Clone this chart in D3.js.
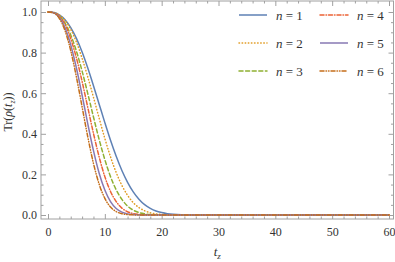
<!DOCTYPE html>
<html>
<head>
<meta charset="utf-8">
<script src="https://cdn.jsdelivr.net/npm/d3@7"></script>
<style>
  body { margin: 0; background: #fff; }
</style>
</head>
<body>
<div id="chart"></div>
<script>
// sample times t_z
const tVals = [0,1,2,3,4,5,6,7,8,9,10,11,12,13,14,15,16,17,18,19,20,21,22,25,30,40,50,60];

// Tr(rho(t_z)), one array per n
const n1 = [1,0.998,0.986,0.962,0.923,0.870,0.803,0.724,0.637,0.546,0.455,0.368,0.289,0.219,0.161,0.114,0.078,0.051,0.033,0.020,0.012,0.0065,0.0035,0.0004,0,0,0,0];
const n2 = [1,0.998,0.985,0.958,0.914,0.852,0.772,0.680,0.580,0.477,0.377,0.287,0.209,0.146,0.097,0.061,0.037,0.021,0.011,0.0057,0.0027,0.0012,0.0005,0,0,0,0,0];
const n3 = [1,0.997,0.980,0.945,0.887,0.807,0.709,0.598,0.483,0.372,0.273,0.189,0.124,0.077,0.044,0.024,0.012,0.0057,0.0025,0.001,0.0004,0,0,0,0,0,0,0];
const n4 = [1,0.997,0.979,0.938,0.869,0.774,0.658,0.530,0.402,0.286,0.189,0.116,0.066,0.034,0.016,0.0069,0.0027,0.0009,0.0003,0,0,0,0,0,0,0,0,0];
const n5 = [1,0.996,0.973,0.922,0.838,0.724,0.590,0.449,0.317,0.206,0.123,0.066,0.032,0.014,0.0055,0.0019,0.0006,0,0,0,0,0,0,0,0,0,0,0];
const n6 = [1,0.995,0.968,0.908,0.810,0.680,0.533,0.385,0.254,0.152,0.082,0.039,0.017,0.0062,0.002,0.0006,0,0,0,0,0,0,0,0,0,0,0,0];

const seriesNames = ['1','2','3','4','5','6'];
const seriesValues = [n1, n2, n3, n4, n5, n6];

const xTicks = [0,10,20,30,40,50,60];
const yTicks = [0,0.2,0.4,0.6,0.8,1.0];

const colors = ['#5E81B5','#E19C24','#8FB032','#EB6235','#8778B3','#C56E1A'];
const dashes = [null, '0.5,2.6', '4,2.6', '4,2,0.5,2', null, '4,2,0.5,2,0.5,2'];

const serif = '"Liberation Serif", "DejaVu Serif", "Times New Roman", serif';
const textColor = '#333';

const W = 395, H = 262;
const frame = {left: 41, right: 393.5, top: 1, bottom: 219};

const x = d3.scaleLinear().domain([0, 60]).range([48, 389]);
const y = d3.scaleLinear().domain([0, 1]).range([215, 12]);

const svg = d3.select('#chart').append('svg')
    .attr('width', W).attr('height', H)
    .style('font-family', serif);

const frameColor = '#a0a0a0';

//frame box
svg.append('rect')
    .attr('x', frame.left).attr('y', frame.top)
    .attr('width', frame.right - frame.left)
    .attr('height', frame.bottom - frame.top)
    .attr('fill', 'none')
    .attr('stroke', frameColor)
    .attr('stroke-width', 1);

const xMinor = d3.range(0, 61, 2).filter(v => v % 10 !== 0);
const yMinor = d3.range(0, 1.001, 0.05).filter(v => Math.abs(v * 5 - Math.round(v * 5)) > 1e-6);

//tick marks drawn with axes, pointing inward
const addAxis = (axis, transform, labels) => {
    const g = svg.append('g').attr('transform', transform).call(axis);
    g.attr('font-family', serif);
    g.select('.domain').remove();
    g.selectAll('line').attr('stroke', frameColor);
    if (!labels) g.selectAll('text').remove();
    g.selectAll('text')
        .style('font-family', serif)
        .style('font-size', '12px')
        .attr('fill', textColor);
    return g;
};

addAxis(d3.axisBottom(x).tickValues(xTicks).tickSize(-5).tickPadding(8).tickFormat(d3.format('d')),
    `translate(0,${frame.bottom})`, true);
addAxis(d3.axisBottom(x).tickValues(xMinor).tickSize(-2.5).tickFormat(''), `translate(0,${frame.bottom})`, false);
addAxis(d3.axisTop(x).tickValues(xTicks).tickSize(-5).tickFormat(''), `translate(0,${frame.top})`, false);
addAxis(d3.axisTop(x).tickValues(xMinor).tickSize(-2.5).tickFormat(''), `translate(0,${frame.top})`, false);

addAxis(d3.axisLeft(y).tickValues(yTicks).tickSize(-5).tickPadding(4).tickFormat(d3.format('.1f')),
    `translate(${frame.left},0)`, true);
addAxis(d3.axisLeft(y).tickValues(yMinor).tickSize(-2.5).tickFormat(''), `translate(${frame.left},0)`, false);
addAxis(d3.axisRight(y).tickValues(yTicks).tickSize(-5).tickFormat(''), `translate(${frame.right},0)`, false);
addAxis(d3.axisRight(y).tickValues(yMinor).tickSize(-2.5).tickFormat(''), `translate(${frame.right},0)`, false);

//curves
const line = d3.line()
    .x(d => x(d[0]))
    .y(d => y(d[1]))
    .curve(d3.curveMonotoneX);

seriesValues.forEach((vals, i) => {
    svg.append('path')
        .datum(tVals.map((t, k) => [t, vals[k]]))
        .attr('d', line)
        .attr('fill', 'none')
        .attr('stroke', colors[i])
        .attr('stroke-width', 1.5)
        .attr('stroke-linecap', dashes[i] ? 'round' : 'butt')
        .attr('stroke-dasharray', dashes[i]);
});

//legend, two columns of three
const legend = svg.append('g').attr('class', 'legend');
seriesNames.forEach((name, i) => {
    const col = Math.floor(i / 3), row = i % 3;
    const gx = 239 + col * 81, gy = 15 + row * 28;
    const g = legend.append('g').attr('transform', `translate(${gx},${gy})`);
    g.append('line')
        .attr('x1', 0).attr('x2', 28).attr('y1', 0).attr('y2', 0)
        .attr('stroke', colors[i])
        .attr('stroke-width', 1.5)
        .attr('stroke-linecap', dashes[i] ? 'round' : 'butt')
        .attr('stroke-dasharray', dashes[i]);
    const txt = g.append('text').attr('x', 37).attr('y', 4.5)
        .style('font-family', serif).style('font-size', '13px').attr('fill', textColor);
    txt.append('tspan').style('font-style', 'italic').text('n');
    txt.append('tspan').text(' = ' + name);
});

//axis labels
const xl = svg.append('text')
    .attr('x', (frame.left + frame.right) / 2)
    .attr('y', 256)
    .attr('text-anchor', 'middle')
    .attr('fill', textColor)
    .style('font-family', serif)
    .style('font-size', '13px');
xl.append('tspan').style('font-style', 'italic').text('t');
xl.append('tspan').attr('dy', 3).style('font-size', '9px').style('font-style', 'italic').text('z');

const yl = svg.append('text')
    .attr('transform', `translate(12,${(frame.top + frame.bottom) / 2 + 2}) rotate(-90)`)
    .attr('text-anchor', 'middle')
    .attr('fill', textColor)
    .style('font-family', serif)
    .style('font-size', '12px');
yl.append('tspan').text('Tr(');
yl.append('tspan').style('font-style', 'italic').text('ρ');
yl.append('tspan').text('(');
yl.append('tspan').style('font-style', 'italic').text('t');
yl.append('tspan').attr('dy', 3).style('font-size', '8px').style('font-style', 'italic').text('z');
yl.append('tspan').attr('dy', -3).text('))');
</script>
</body>
</html>
